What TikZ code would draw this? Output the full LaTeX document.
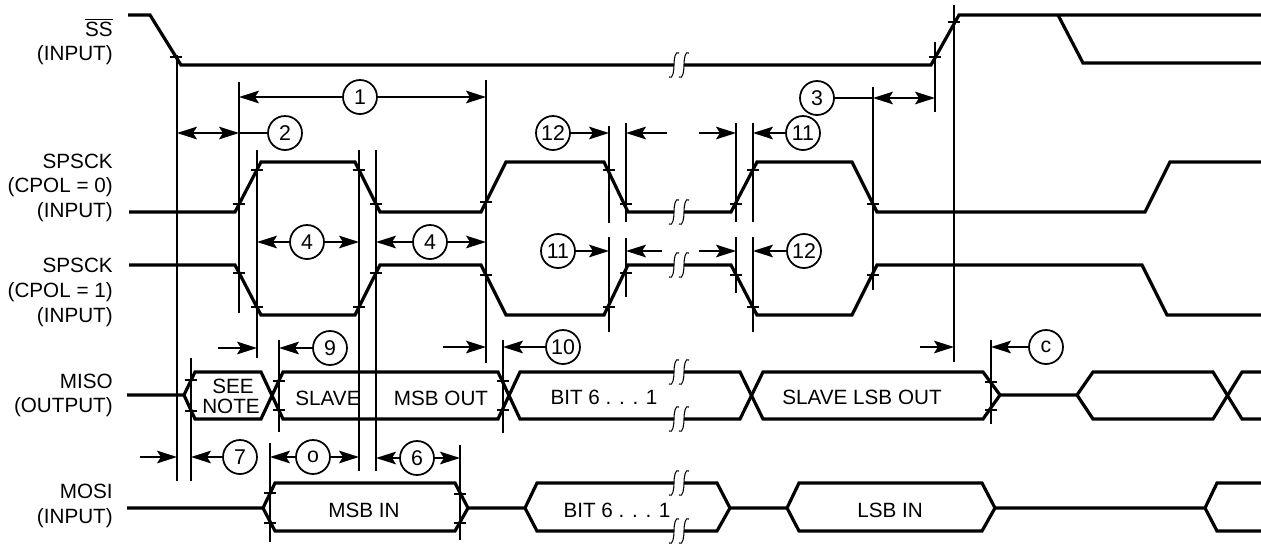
\documentclass[tikz,border=0pt]{standalone}
\usepackage{fontspec}
\setmainfont{Liberation Sans}
\usetikzlibrary{arrows.meta}
\newcommand\brkstroke[2]{%
  \draw[brkline] ({#1-5},{#2+12}) .. controls ({#1-1},{#2+15}) and ({#1},{#2+5}) .. (#1,#2)
     .. controls ({#1},{#2-5}) and ({#1+1},{#2-15}) .. ({#1+5},{#2-12});}
\newcommand\brkmark[2]{%
  \fill[white] (#1,{#2-2.6}) rectangle ({#1+10},{#2+2.6});
  \brkstroke{#1}{#2}\brkstroke{#1+10}{#2}}
\newcommand\tk[2]{\draw[thinln] ({#1-6},#2) -- ({#1+6},#2);}
\begin{document}
\begin{tikzpicture}[x=0.75pt,y=-0.75pt,
  wave/.style={line width=2.4pt},
  thinln/.style={line width=1.3pt},
  brkline/.style={line width=0.8pt},
  arr/.style={thinln,-{Stealth[length=15pt,width=9.5pt,inset=3pt]}},
  darr/.style={thinln,{Stealth[length=15pt,width=9.5pt,inset=3pt]}-{Stealth[length=15pt,width=9.5pt,inset=3pt]}},
  num/.style={circle,draw,thinln,fill=white,minimum size=25.5pt,inner sep=0pt,font=\fontsize{16}{18}\selectfont},
  lbl/.style={anchor=base east,inner sep=0pt,font=\fontsize{15.5}{18}\selectfont},
  txt/.style={anchor=base,inner sep=0pt,font=\fontsize{15.5}{18}\selectfont}]
\useasboundingbox (0,0) rectangle (1261,544);

% vertical reference positions
\coordinate (vA) at (177,0);
\coordinate (vB) at (239,0);
\coordinate (vC) at (257,0);
\coordinate (vD) at (359,0);
\coordinate (vE) at (376,0);
\coordinate (vF) at (486,0);
\coordinate (vG) at (609,0);
\coordinate (vH) at (626,0);
\coordinate (vI) at (736,0);
\coordinate (vJ) at (753,0);
\coordinate (vK) at (873,0);
\coordinate (vL) at (935,0);
\coordinate (vM) at (954,0);
\coordinate (vN) at (991,0);
\coordinate (vO) at (191,0);
\coordinate (vP) at (279,0);
\coordinate (vQ) at (503,0);
\coordinate (vR) at (270,0);
\coordinate (vS) at (460,0);

% vertical lines
\draw[thinln] (177,55) -- (177,481);
\draw[thinln] (239,82) -- (239,313);
\draw[thinln] (257,150) -- (257,358);
\draw[thinln] (359,150) -- (359,471);
\draw[thinln] (376,150) -- (376,471);
\draw[thinln] (486,80) -- (486,363);
\draw[thinln] (609,126) -- (609,223) (609,237) -- (609,332);
\draw[thinln] (626,123) -- (626,222) (626,238) -- (626,297);
\draw[thinln] (736,123) -- (736,222) (736,237) -- (736,293);
\draw[thinln] (753,123) -- (753,222) (753,237) -- (753,332);
\draw[thinln] (873,87) -- (873,290);
\draw[thinln] (935,42) -- (935,112);
\draw[thinln] (954,5) -- (954,362);
\draw[thinln] (991,340) -- (991,424);
\draw[thinln] (191,358) -- (191,481);
\draw[thinln] (279,340) -- (279,432);
\draw[thinln] (503,340) -- (503,433);
\draw[thinln] (270,443) -- (270,542);
\draw[thinln] (460,445) -- (460,540);

% labels
\node[lbl] (lss) at (113,36) {$\overline{\mbox{SS}}$};
\node[lbl] (lss2) at (113,60) {(INPUT)};
\node[lbl] (lc0a) at (113,168) {SPSCK};
\node[lbl] (lc0b) at (113,192.5) {(CPOL = 0)};
\node[lbl] (lc0c) at (113,217) {(INPUT)};
\node[lbl] (lc1a) at (113,272) {SPSCK};
\node[lbl] (lc1b) at (113,297) {(CPOL = 1)};
\node[lbl] (lc1c) at (113,322) {(INPUT)};
\node[lbl] (lmi) at (113,388) {MISO};
\node[lbl] (lmi2) at (113,412) {(OUTPUT)};
\node[lbl] (lmo) at (113,498) {MOSI};
\node[lbl] (lmo2) at (113,523) {(INPUT)};

% waveforms
\draw[wave] (128,15) -- (150,15) -- (181,65) -- (931,65) -- (959,15) -- (1261,15);
\draw[wave] (1058,15) -- (1083,63) -- (1261,63);

\draw[wave] (129,212) -- (235,212) -- (261,162) -- (355,162) -- (380,212) -- (481,212) -- (506,162)
  -- (604,162) -- (628,212) -- (731,212) -- (757,162) -- (852,162) -- (877,212) -- (1145,212)
  -- (1170,162) -- (1261,162);
\draw[wave] (129,265) -- (235,265) -- (261,315) -- (355,315) -- (380,265) -- (481,265) -- (506,315)
  -- (604,315) -- (628,265) -- (731,265) -- (757,315) -- (852,315) -- (877,265) -- (1142,265)
  -- (1167,315) -- (1261,315);

\draw[wave] (127,395) -- (184,395) -- (195,372) -- (261,372) -- (283,419) -- (498,419) -- (520,372)
  -- (740,372) -- (763,419) -- (983,419) -- (1000,395) -- (1077,395) -- (1093,372) -- (1213,372)
  -- (1242,419) -- (1261,419);
\draw[wave] (184,395) -- (195,419) -- (261,419) -- (283,372) -- (498,372) -- (520,419) -- (740,419)
  -- (763,372) -- (983,372) -- (1000,395);
\draw[wave] (1077,395) -- (1093,419) -- (1213,419) -- (1242,372) -- (1261,372);

\draw[wave] (127,508) -- (263,508) -- (275,483) -- (455,483) -- (468,508) -- (525,508) -- (537,483)
  -- (717,483) -- (730,508) -- (787,508) -- (799,483) -- (982,483) -- (995,508) -- (1205,508)
  -- (1217,483) -- (1261,483);
\draw[wave] (263,508) -- (275,531) -- (455,531) -- (468,508);
\draw[wave] (525,508) -- (537,531) -- (717,531) -- (730,508);
\draw[wave] (787,508) -- (799,531) -- (982,531) -- (995,508);
\draw[wave] (1205,508) -- (1217,531) -- (1261,531);

% breaks
\brkmark{674}{65}
\brkmark{674}{212}
\brkmark{674}{265}
\brkmark{674}{372}
\brkmark{674}{419}
\brkmark{674}{483}
\brkmark{674}{531}

% tick marks
\tk{176}{57}\tk{935}{57}\tk{954}{22}
\tk{239}{204}\tk{257}{170}\tk{359}{170}\tk{376}{204}\tk{486}{202}
\tk{609}{170}\tk{626}{204}\tk{736}{204}\tk{753}{170}\tk{873}{204}
\tk{239}{273}\tk{257}{307}\tk{359}{307}\tk{376}{273}\tk{486}{275}
\tk{609}{307}\tk{626}{273}\tk{736}{275}\tk{753}{307}\tk{873}{275}
\tk{191}{380}\tk{191}{411}\tk{279}{381}\tk{279}{410}
\tk{503}{381}\tk{503}{410}\tk{991}{382}\tk{991}{410}
\tk{270}{493}\tk{270}{523}\tk{460}{494}\tk{460}{523}

% waveform texts
\node[txt] (tsee) at (233,393) {SEE};
\node[txt] (tnote) at (231,413) {NOTE};
\node[txt] (tslave) at (328,405) {SLAVE};
\node[txt] (tmsbo) at (441,405) {MSB OUT};
\node[txt] (tbito) at (604,404) {BIT 6 . . . 1};
\node[txt] (tlsbo) at (862,404) {SLAVE LSB OUT};
\node[txt] (tmsbi) at (364,517) {MSB IN};
\node[txt] (tbiti) at (617,517) {BIT 6 . . . 1};
\node[txt] (tlsbi) at (890,517) {LSB IN};

% timing annotations
\node[num] (n1) at (360,97) {1};
\draw[arr] (n1) -- (n1 -| vB);
\draw[arr] (n1) -- (n1 -| vF);

\node[num] (n2) at (285,133) {2};
\draw[darr] (n2 -| vA) -- (n2 -| vB);
\draw[thinln] (n2) -- (n2 -| vB);

\node[num] (n3) at (817,98) {3};
\draw[thinln] (n3) -- (n3 -| vK);
\draw[darr] (n3 -| vK) -- (n3 -| vL);

\node[num] (n4a) at (307,242) {4};
\draw[arr] (n4a) -- (n4a -| vC);
\draw[arr] (n4a) -- (n4a -| vD);
\node[num] (n4b) at (430,242) {4};
\draw[arr] (n4b) -- (n4b -| vE);
\draw[arr] (n4b) -- (n4b -| vF);

\node[num] (n12a) at (553,133) {12};
\draw[arr] (n12a) -- (n12a -| vG);
\coordinate (fa1) at (667,133);
\draw[arr] (fa1) -- (fa1 -| vH);
\coordinate (fa2) at (699,133);
\draw[arr] (fa2) -- (fa2 -| vI);
\node[num] (n11a) at (803,133) {11};
\draw[arr] (n11a) -- (n11a -| vJ);

\node[num] (n11b) at (558,251) {11};
\draw[arr] (n11b) -- (n11b -| vG);
\coordinate (fb1) at (662,251);
\draw[arr] (fb1) -- (fb1 -| vH);
\coordinate (fb2) at (699,251);
\draw[arr] (fb2) -- (fb2 -| vI);
\node[num] (n12b) at (804,251) {12};
\draw[arr] (n12b) -- (n12b -| vJ);

\coordinate (f9) at (218,348);
\draw[arr] (f9) -- (f9 -| vC);
\node[num] (n9) at (330,348) {9};
\draw[arr] (n9) -- (n9 -| vP);

\coordinate (f10) at (443,347);
\draw[arr] (f10) -- (f10 -| vF);
\node[num] (n10) at (563,347) {10};
\draw[arr] (n10) -- (n10 -| vQ);

\coordinate (fc) at (920,347);
\draw[arr] (fc) -- (fc -| vM);
\node[num] (nc) at (1046,347) {c};
\draw[arr] (nc) -- (nc -| vN);

\coordinate (f7) at (140,457);
\draw[arr] (f7) -- (f7 -| vA);
\node[num] (n7) at (240,457) {7};
\draw[arr] (n7) -- (n7 -| vO);

\node[num] (no) at (313,457) {o};
\draw[arr] (no) -- (no -| vR);
\draw[arr] (no) -- (no -| vD);

\node[num] (n6) at (417,458) {6};
\draw[arr] (n6) -- (n6 -| vE);
\draw[arr] (n6) -- (n6 -| vS);
\end{tikzpicture}
\end{document}
